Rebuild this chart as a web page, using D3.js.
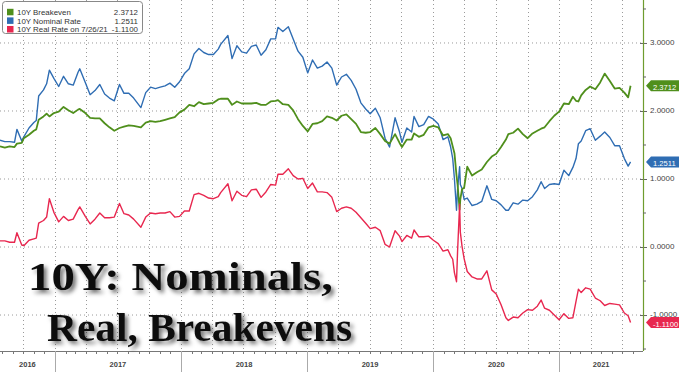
<!DOCTYPE html>
<html>
<head>
<meta charset="utf-8">
<script src="https://cdn.jsdelivr.net/npm/d3@7"></script>
<style>
  body { margin: 0; background: #fff; }
  svg { display: block; }
</style>
</head>
<body>
<div id="chart"></div>
<script>
// 10Y breakeven / nominal / real, approx every two weeks
const dates = [
  "2016-07-26","2016-08-09","2016-08-23","2016-09-06","2016-09-13","2016-09-27","2016-10-03","2016-10-18","2016-11-01","2016-11-08","2016-11-15","2016-11-29","2016-12-08","2016-12-16","2016-12-29",
  "2017-01-12","2017-01-26","2017-02-09","2017-02-23","2017-03-09","2017-03-14","2017-03-30","2017-04-13","2017-04-27","2017-05-11","2017-05-25","2017-06-08","2017-06-22","2017-07-07","2017-07-20","2017-08-03","2017-08-17","2017-09-07","2017-09-21","2017-10-05","2017-10-19","2017-11-02","2017-11-16","2017-11-30","2017-12-14","2017-12-28",
  "2018-01-11","2018-01-25","2018-02-08","2018-02-22","2018-03-08","2018-03-22","2018-04-05","2018-04-19","2018-04-26","2018-05-17","2018-05-29","2018-06-12","2018-06-26","2018-07-10","2018-07-24","2018-08-07","2018-08-21","2018-09-04","2018-09-18","2018-10-02","2018-10-09","2018-10-23","2018-11-08","2018-11-22","2018-12-06","2018-12-20",
  "2019-01-03","2019-01-17","2019-01-31","2019-02-14","2019-02-28","2019-03-14","2019-03-28","2019-04-11","2019-04-25","2019-05-09","2019-05-23","2019-06-06","2019-06-20","2019-07-03","2019-07-18","2019-08-01","2019-08-15","2019-08-28","2019-09-13","2019-09-26","2019-10-03","2019-10-17","2019-10-31","2019-11-07","2019-11-21","2019-12-05","2019-12-19",
  "2020-01-02","2020-01-16","2020-01-30","2020-02-13","2020-02-21","2020-02-27","2020-03-03","2020-03-09","2020-03-12","2020-03-18","2020-03-20","2020-03-25","2020-03-31","2020-04-09","2020-04-23","2020-05-07","2020-05-21","2020-06-05","2020-06-19","2020-07-02","2020-07-16","2020-07-30","2020-08-06","2020-08-20","2020-09-03","2020-09-17","2020-10-01","2020-10-15","2020-10-29","2020-11-09","2020-11-19","2020-12-03","2020-12-17","2020-12-31",
  "2021-01-14","2021-01-28","2021-02-09","2021-02-18","2021-02-25","2021-03-05","2021-03-18","2021-03-31","2021-04-15","2021-04-29","2021-05-12","2021-05-27","2021-06-10","2021-06-24","2021-07-08","2021-07-19","2021-07-26"
];
const breakeven = [
  1.48,1.46,1.48,1.47,1.52,1.53,1.60,1.65,1.71,1.73,1.87,1.92,1.96,1.92,1.97,
  1.99,2.06,2.01,1.97,2.02,2.03,1.97,1.90,1.89,1.89,1.82,1.76,1.71,1.75,1.77,1.79,1.78,1.76,1.83,1.85,1.84,1.85,1.87,1.89,1.91,1.98,
  2.02,2.09,2.07,2.13,2.10,2.11,2.12,2.17,2.18,2.18,2.09,2.14,2.11,2.11,2.11,2.12,2.09,2.09,2.14,2.15,2.16,2.10,2.09,2.01,1.88,1.78,
  1.70,1.81,1.82,1.85,1.92,1.90,1.86,1.93,1.95,1.88,1.81,1.69,1.68,1.69,1.75,1.66,1.56,1.52,1.66,1.53,1.47,1.58,1.58,1.67,1.62,1.65,1.76,
  1.78,1.76,1.64,1.66,1.60,1.48,1.38,1.05,0.92,0.55,0.70,0.85,0.87,1.18,1.05,1.10,1.14,1.25,1.33,1.37,1.47,1.58,1.66,1.68,1.74,1.66,1.60,1.67,1.71,1.74,1.76,1.85,1.93,1.99,
  2.11,2.10,2.21,2.15,2.14,2.23,2.31,2.36,2.32,2.42,2.55,2.44,2.33,2.34,2.27,2.20,2.3712
];
const nominal = [
  1.57,1.55,1.55,1.54,1.73,1.56,1.62,1.75,1.83,1.86,2.22,2.31,2.40,2.60,2.48,
  2.36,2.51,2.40,2.38,2.57,2.62,2.42,2.24,2.30,2.39,2.25,2.19,2.15,2.39,2.26,2.26,2.19,2.05,2.27,2.35,2.33,2.35,2.37,2.41,2.35,2.43,
  2.55,2.62,2.84,2.92,2.86,2.83,2.83,2.91,2.98,3.11,2.77,2.96,2.87,2.85,2.95,2.97,2.82,2.90,3.06,3.06,3.23,3.17,3.24,3.06,2.88,2.79,
  2.56,2.75,2.63,2.66,2.72,2.63,2.38,2.50,2.54,2.45,2.32,2.12,2.03,1.96,2.04,1.90,1.60,1.47,1.90,1.69,1.54,1.75,1.69,1.92,1.77,1.80,1.92,
  1.88,1.81,1.58,1.62,1.47,1.30,1.00,0.54,0.85,1.18,0.92,0.86,0.70,0.72,0.61,0.63,0.67,0.90,0.70,0.68,0.62,0.54,0.54,0.65,0.63,0.69,0.68,0.74,0.84,0.96,0.86,0.92,0.93,0.92,
  1.13,1.05,1.17,1.30,1.52,1.56,1.71,1.74,1.57,1.63,1.69,1.61,1.49,1.49,1.30,1.19,1.2511
];
const real = [
  0.09,0.09,0.07,0.07,0.21,0.03,0.02,0.10,0.12,0.13,0.35,0.39,0.44,0.71,0.51,
  0.37,0.45,0.39,0.41,0.55,0.59,0.45,0.34,0.41,0.50,0.43,0.43,0.44,0.64,0.49,0.47,0.41,0.29,0.44,0.50,0.49,0.50,0.50,0.52,0.44,0.45,
  0.53,0.53,0.77,0.79,0.76,0.72,0.71,0.74,0.80,0.93,0.68,0.82,0.76,0.74,0.84,0.85,0.73,0.81,0.92,0.91,1.07,1.07,1.15,1.05,1.00,1.01,
  0.86,0.94,0.81,0.81,0.80,0.73,0.52,0.57,0.59,0.57,0.51,0.43,0.35,0.27,0.29,0.24,0.04,0.00,0.24,0.16,0.08,0.17,0.13,0.25,0.15,0.15,0.16,
  0.10,0.05,-0.06,-0.04,-0.13,-0.18,-0.38,-0.51,-0.07,0.63,0.22,0.01,-0.17,-0.36,-0.44,-0.47,-0.47,-0.35,-0.63,-0.69,-0.85,-1.04,-1.08,-1.03,-1.04,-0.97,-0.92,-0.93,-0.87,-0.78,-0.90,-0.93,-1.00,-1.07,
  -0.98,-1.05,-1.04,-0.80,-0.62,-0.67,-0.60,-0.62,-0.75,-0.79,-0.86,-0.83,-0.84,-0.85,-0.97,-1.01,-1.11
];
const yTicks = [3, 2, 1, 0, -1];
const yMinor = [3.5, 2.5, 1.5, 0.5, -0.5, -1.5];
const yearLabels = ["2016", "2017", "2018", "2019", "2020", "2021"];
const legendNames = ["10Y Breakeven", "10Y Nominal Rate", "10Y Real Rate on 7/26/21"];
const lastValues = ["2.3712", "1.2511", "-1.1100"];

const W = 679, H = 372;
const plotRight = 643, axisY = 351;
const colors = ["#4f8f1c", "#2f6db3", "#e8274f"];

const parse = d3.timeParse("%Y-%m-%d");
const dd = dates.map(parse);

const x = d3.scaleTime()
  .domain([parse("2016-07-26"), parse("2021-08-31")])
  .range([0, plotRight]);
const y = d3.scaleLinear()
  .domain([-1.529, 3.632])
  .range([axisY, 0]);

const svg = d3.select("#chart").append("svg")
  .attr("width", W).attr("height", H)
  .style("font-family", "'Liberation Sans', Arial, sans-serif");

// shadow for the big title
const defs = svg.append("defs");
const f = defs.append("filter").attr("id", "shadow")
  .attr("x", "-10%").attr("y", "-20%").attr("width", "130%").attr("height", "150%");
f.append("feDropShadow").attr("dx", 3).attr("dy", 3).attr("stdDeviation", 2)
  .attr("flood-color", "#000").attr("flood-opacity", 0.55);

// grid
const grid = svg.append("g");
grid.selectAll("line.h").data(yTicks).join("line")
  .attr("x1", 0).attr("x2", plotRight)
  .attr("y1", d => y(d)).attr("y2", d => y(d))
  .attr("stroke", "#9a9a9a").attr("stroke-dasharray", "1,3");
grid.selectAll("line.v").data(x.ticks(d3.timeMonth.every(3))).join("line")
  .attr("x1", d => Math.round(x(d)) + 0.5).attr("x2", d => Math.round(x(d)) + 0.5)
  .attr("y1", 0).attr("y2", axisY)
  .attr("stroke", "#9a9a9a").attr("stroke-dasharray", "1,3");

// bottom axis
const bx = svg.append("g");
bx.append("line").attr("x1", 0).attr("x2", plotRight)
  .attr("y1", axisY + 0.5).attr("y2", axisY + 0.5).attr("stroke", "#777");
bx.selectAll("line.m").data(x.ticks(d3.timeMonth.every(1))).join("line")
  .attr("x1", d => Math.round(x(d)) + 0.5).attr("x2", d => Math.round(x(d)) + 0.5)
  .attr("y1", axisY).attr("y2", axisY + 3).attr("stroke", "#777");
const yearStarts = x.ticks(d3.timeYear.every(1));
bx.selectAll("line.y").data(yearStarts).join("line")
  .attr("x1", d => Math.round(x(d)) + 0.5).attr("x2", d => Math.round(x(d)) + 0.5)
  .attr("y1", axisY).attr("y2", H).attr("stroke", "#aaa");
const bounds = [x.range()[0]].concat(yearStarts.map(x), [plotRight]);
bx.selectAll("text").data(yearLabels).join("text")
  .attr("x", (d, i) => (bounds[i] + bounds[i + 1]) / 2)
  .attr("y", 367)
  .attr("text-anchor", "middle")
  .attr("font-size", 7.5).attr("font-weight", "bold").attr("fill", "#444")
  .text(d => d);

// right axis
const ra = svg.append("g").attr("transform", `translate(${plotRight},0)`);
ra.call(d3.axisRight(y).tickValues(yTicks).tickSize(4).tickPadding(3)
  .tickFormat(d => d.toFixed(4)));
ra.select(".domain").remove();
ra.append("line").attr("x1", 0.5).attr("x2", 0.5).attr("y1", 0).attr("y2", axisY)
  .attr("stroke", "#6e9c2e").attr("stroke-width", 1.2);
ra.selectAll(".tick line").attr("stroke", "#666").attr("x1", -3);
ra.selectAll(".tick text").attr("font-size", 8).attr("fill", "#444").attr("dy", "0.22em")
  .attr("font-family", "'Liberation Sans', Arial, sans-serif");
ra.selectAll("line.minor").data(yMinor).join("line")
  .attr("x1", 0).attr("x2", 3)
  .attr("y1", d => y(d)).attr("y2", d => y(d)).attr("stroke", "#666");

// series
const series = [breakeven, nominal, real];
const line = d3.line().x((d, i) => x(dd[i])).y(d => y(d));
const lines = svg.append("g");
[1, 0, 2].forEach(k => {
  lines.append("path").datum(series[k])
    .attr("d", line)
    .attr("fill", "none")
    .attr("stroke", colors[k])
    .attr("stroke-width", k === 0 ? 1.8 : 1.4)
    .attr("stroke-linejoin", "round");
});

// end value tags
const tags = svg.append("g");
series.forEach((s, k) => {
  const cy = y(s[s.length - 1]);
  const g = tags.append("g").attr("transform", `translate(0,${cy})`);
  g.append("path")
    .attr("d", `M${plotRight + 3},0 L${plotRight + 8},-5.5 L${W},-5.5 L${W},5.5 L${plotRight + 8},5.5 Z`)
    .attr("fill", colors[k]);
  g.append("text").attr("x", plotRight + 10).attr("y", 4)
    .attr("font-size", 7.6).attr("fill", "#fff")
    .text(lastValues[k]);
});

// legend
const lg = svg.append("g");
lg.append("rect").attr("x", 2.5).attr("y", 1.5).attr("width", 140).attr("height", 32)
  .attr("rx", 3).attr("fill", "#fff").attr("stroke", "#888");
legendNames.forEach((name, k) => {
  const cy = 12.3 + k * 8.6;
  lg.append("rect").attr("x", 7).attr("y", cy - 3.5).attr("width", 6.5).attr("height", 6.5)
    .attr("fill", colors[k]);
  lg.append("text").attr("x", 17).attr("y", cy + 2.6)
    .attr("font-size", 7.9).attr("fill", "#333").text(name);
  lg.append("text").attr("x", 138).attr("y", cy + 2.6).attr("text-anchor", "end")
    .attr("font-size", 7.9).attr("fill", "#333").text(lastValues[k]);
});

// big title
const title = svg.append("g").attr("filter", "url(#shadow)")
  .style("font-family", "'Liberation Serif', 'Times New Roman', serif")
  .attr("font-weight", "bold").attr("fill", "#111");
title.append("text").attr("x", 28).attr("y", 290).attr("font-size", 41)
  .attr("textLength", 305).attr("lengthAdjust", "spacingAndGlyphs")
  .text("10Y: Nominals,");
title.append("text").attr("x", 47).attr("y", 341).attr("font-size", 41)
  .attr("textLength", 305).attr("lengthAdjust", "spacingAndGlyphs")
  .text("Real, Breakevens");
</script>
</body>
</html>
